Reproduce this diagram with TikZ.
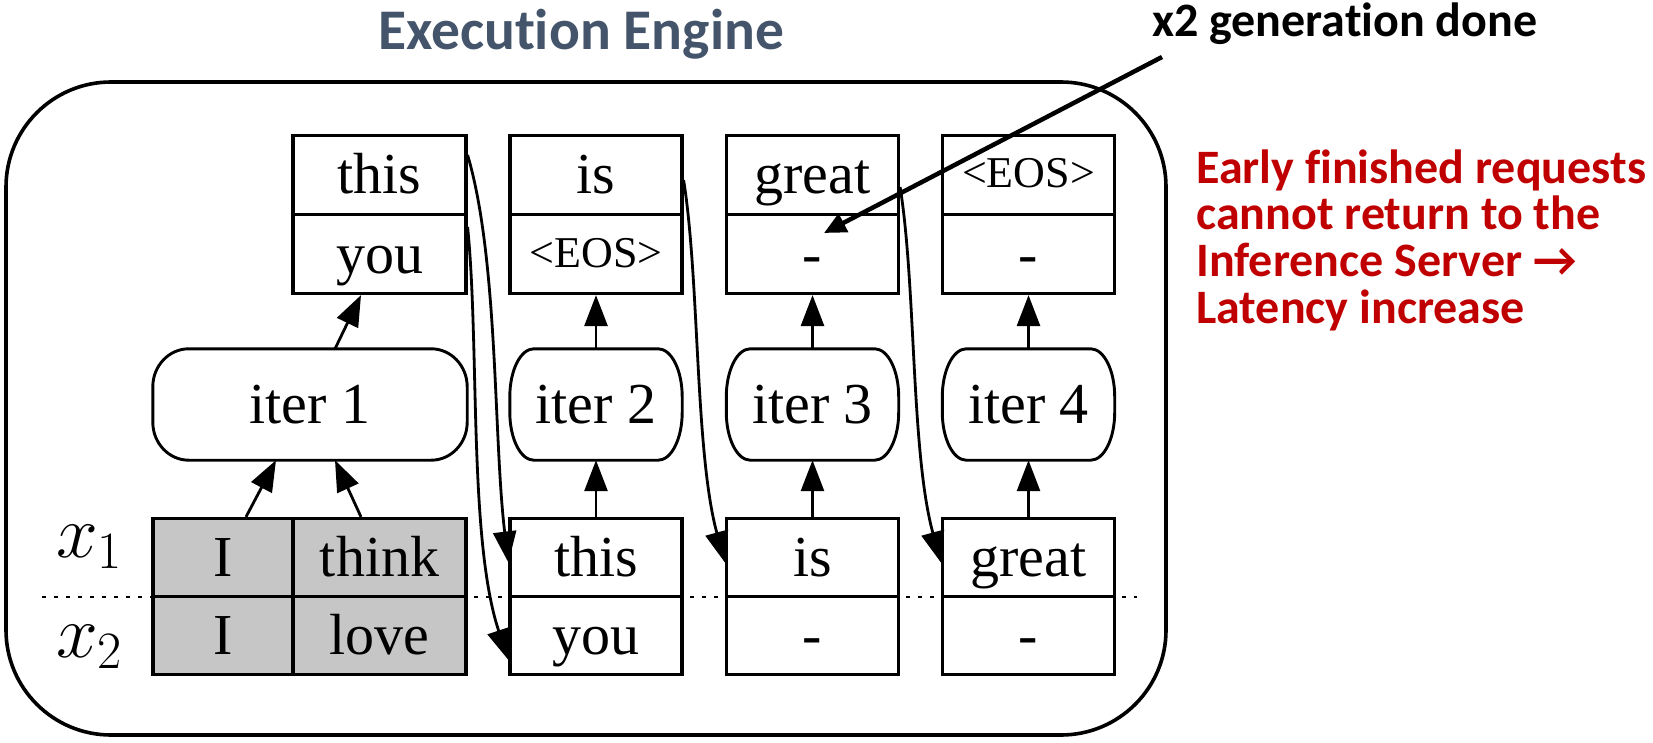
\documentclass[tikz,border=0pt]{standalone}
\usepackage{fix-cm}
\usepackage{fontspec}
\setmainfont{Liberation Serif}
\newfontfamily\carlito{Carlito}[Ligatures=NoCommon]
\usetikzlibrary{arrows.meta,calc}

\definecolor{titleblue}{HTML}{44546A}
\definecolor{alertred}{HTML}{C00000}
\definecolor{cellgray}{RGB}{198,198,198}

% outline of an iteration node: flat top and bottom, elliptic corners
\newcommand\iterframe[3]{%
  \draw[iterline] ([xshift=#2]#1.north west) -- ([xshift=-#2]#1.north east)
    arc[start angle=90,end angle=0,x radius=#2,y radius=#3]
    -- ([yshift=#3]#1.south east)
    arc[start angle=0,end angle=-90,x radius=#2,y radius=#3]
    -- ([xshift=#2]#1.south west)
    arc[start angle=270,end angle=180,x radius=#2,y radius=#3]
    -- ([yshift=-#3]#1.north west)
    arc[start angle=180,end angle=90,x radius=#2,y radius=#3]
    -- cycle;}

\tikzset{
  tokfont/.style={font=\fontsize{58pt}{60pt}\selectfont},
  cell/.style={draw, line width=3.2pt, minimum width=172pt, minimum height=79pt,
    inner sep=0pt, text height=41pt, text depth=3pt, tokfont},
  lowcell/.style={cell, minimum height=78pt},
  graycell/.style={lowcell, fill=cellgray},
  eos/.style={font=\fontsize{44pt}{46pt}\selectfont, text height=29pt, text depth=3pt},
  iternode/.style={minimum height=111pt, inner sep=0pt, text height=41pt,
    text depth=3pt, tokfont},
  iterline/.style={line width=2.9pt},
  flow/.style={line width=2.8pt, -{Triangle[length=31pt,width=23pt]}},
  pointer/.style={line width=4.5pt, -{Triangle[length=22pt,width=20pt]}},
  engine/.style={draw, line width=3.6pt, rounded corners=105pt,
    minimum width=1160pt, minimum height=653pt, inner sep=0pt},
  sepline/.style={line width=2.8pt, dash pattern=on 4pt off 8pt},
  rowlabel/.style={anchor=base west, inner sep=0pt, font=\fontsize{75pt}{78pt}\selectfont},
  heading/.style={inner sep=0pt, font=\carlito\bfseries\fontsize{57.5pt}{60pt}\selectfont, text=titleblue},
  callout/.style={inner sep=0pt, font=\carlito\bfseries\fontsize{48pt}{50pt}\selectfont},
  remark/.style={inner sep=0pt, align=left, text=alertred,
    font=\carlito\bfseries\fontsize{48pt}{46.5pt}\selectfont},
}

\begin{document}
\begin{tikzpicture}[x=1pt,y=1pt]
\useasboundingbox (0,0) rectangle (1653,-743);

% engine frame and title
\node[engine] (engine) at (586,-408.5) {};
\node[heading, anchor=base] (title) at (581,-50) {Execution Engine};

% separator between the two requests
\coordinate (sepL) at (42,-597);
\coordinate (sepR) at (1137,-597);
\draw[sepline] (sepL) -- (sepR);

% row labels
\node[rowlabel] (lx1) at (56,-557) {$x_1$};
\node[rowlabel] (lx2) at (56,-657) {$x_2$};

% prompt tokens
\node[graycell, minimum width=140pt] (g11) at (223,-557.5) {I};
\node[graycell, minimum width=173pt] (g12) at (379.5,-557.5) {think};
\node[graycell, minimum width=140pt] (g21) at (223,-635.5) {I};
\node[graycell, minimum width=173pt] (g22) at (379.5,-635.5) {love};

% inputs of iterations 2-4
\node[lowcell] (b2a) at (596,-557.5) {this};
\node[lowcell] (b2b) at (596,-635.5) {you};
\node[lowcell] (b3a) at (812.5,-557.5) {is};
\node[lowcell] (b3b) at (812.5,-635.5) {-};
\node[lowcell] (b4a) at (1028.5,-557.5) {great};
\node[lowcell] (b4b) at (1028.5,-635.5) {-};

% iterations
\node[iternode, minimum width=314pt] (iter1) at (310,-404.5) {iter 1};
\node[iternode, minimum width=172pt] (iter2) at (596,-404.5) {iter 2};
\node[iternode, minimum width=172pt] (iter3) at (812.5,-404.5) {iter 3};
\node[iternode, minimum width=172pt] (iter4) at (1028.5,-404.5) {iter 4};
\iterframe{iter1}{36pt}{38pt}
\iterframe{iter2}{24pt}{48pt}
\iterframe{iter3}{24pt}{48pt}
\iterframe{iter4}{24pt}{48pt}

% outputs
\node[cell, minimum width=173pt] (t1a) at (379.5,-175) {this};
\node[cell, minimum width=173pt] (t1b) at (379.5,-254) {you};
\node[cell] (t2a) at (596,-175) {is};
\node[cell, eos] (t2b) at (596,-254) {<EOS>};
\node[cell] (t3a) at (812.5,-175) {great};
\node[cell] (t3b) at (812.5,-254) {-};
\node[cell, eos] (t4a) at (1028.5,-175) {<EOS>};
\node[cell] (t4b) at (1028.5,-254) {-};

% data flow through iteration 1
\draw[flow] ([xshift=23pt]g11.north) -- ([xshift=-34pt]iter1.south);
\draw[flow] ([xshift=-18.5pt]g12.north) -- ([xshift=25pt]iter1.south);
\draw[flow] ([xshift=25pt]iter1.north) -- ([xshift=-18.5pt]t1b.south);

% data flow through iterations 2-4
\foreach \k in {2,3,4}{
  \draw[flow] (b\k a.north) -- (iter\k.south);
  \draw[flow] (iter\k.north) -- (t\k b.south);
}

% outputs fed back as the next inputs
\draw[flow] ([yshift=20pt]t1a.east) .. controls +(31,-105) and +(-15,123) .. ([yshift=-5pt]b2a.west);
\draw[flow] ([yshift=27pt]t1b.east) .. controls +(12,-120) and +(-40,120) .. ([yshift=-24.5pt]b2b.west);
\draw[flow] ([yshift=-5pt]t2a.east) .. controls +(16,-100) and +(-30,110) .. ([yshift=-5pt]b3a.west);
\draw[flow] ([yshift=-12pt]t3a.east) .. controls +(16,-100) and +(-30,110) .. ([yshift=-5pt]b4a.west);

% callout
\node[callout, anchor=base west] (done) at (1152,-37) {x2 generation done};
\coordinate (calloutstart) at (1162,-57);
\draw[pointer] (calloutstart) -- ([shift={(11.5pt,21pt)}]t3b.center);

% remark (anchored at the baseline of its last line)
\node[remark, anchor=base west] (note) at (1196,-323)
  {Early finished requests\\cannot return to the\\Inference Server →\\Latency increase};
\end{tikzpicture}
\end{document}
